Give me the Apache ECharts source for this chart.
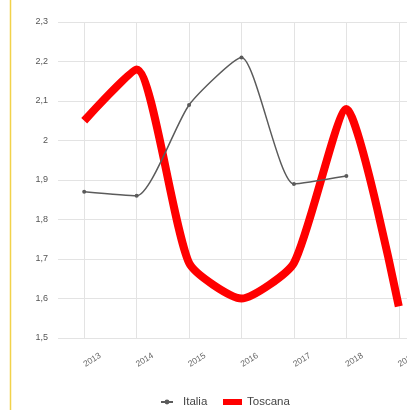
<!DOCTYPE html>
<html>
<head>
<meta charset="utf-8">
<script src="https://cdn.jsdelivr.net/npm/echarts@6/dist/echarts.min.js"></script>
<style>
  html, body { margin: 0; padding: 0; background: #fff; }
  #chart { width: 407px; height: 410px; }
</style>
</head>
<body>
<div id="chart"></div>
<script>
// Years on the category axis
const years = ['2013', '2014', '2015', '2016', '2017', '2018', '2019'];
// National values
const italia = [1.87, 1.86, 2.09, 2.21, 1.89, 1.91, null];
// Regional values
const toscana = [2.05, 2.18, 1.69, 1.60, 1.69, 2.08, 1.58];

const chart = echarts.init(document.getElementById('chart'), null, { renderer: 'canvas' });

const legendFont = { fontSize: 11.5, color: '#444', fontFamily: '"Liberation Sans", Arial, sans-serif' };

chart.setOption({
  animation: false,
  backgroundColor: '#ffffff',
  graphic: [{
    type: 'line',
    shape: { x1: 10.5, y1: 0, x2: 10.5, y2: 410 },
    style: { stroke: '#f2d24a', lineWidth: 1.5 },
    silent: true
  }],
  grid: { left: 58, top: 22, width: 367, height: 316, outerBoundsMode: 'none', containLabel: false },
  legend: [
    {
      top: 396,
      left: 160,
      padding: 0,
      itemWidth: 12,
      itemHeight: 6,
      textStyle: Object.assign({ padding: [0, 0, 0, 5] }, legendFont),
      data: [{ name: 'Italia' }]
    },
    {
      top: 396,
      left: 223,
      padding: 0,
      itemWidth: 19,
      itemHeight: 6,
      textStyle: legendFont,
      data: [{ name: 'Toscana', icon: 'rect' }]
    }
  ],
  xAxis: {
    type: 'category',
    data: years,
    boundaryGap: true,
    axisLine: { show: false },
    axisTick: { show: false },
    axisLabel: {
      rotate: 32,
      align: 'left',
      verticalAlign: 'middle',
      fontSize: 8.5,
      color: '#666',
      margin: 27,
      fontFamily: '"Liberation Sans", Arial, sans-serif'
    },
    splitLine: { show: true, alignWithLabel: true, lineStyle: { color: '#e3e3e3', width: 1 } }
  },
  yAxis: {
    type: 'value',
    min: 1.5,
    max: 2.3,
    interval: 0.1,
    axisLine: { show: false },
    axisTick: { show: false },
    axisLabel: {
      fontSize: 9,
      color: '#555',
      margin: 10,
      fontFamily: '"Liberation Sans", Arial, sans-serif',
      formatter: v => {
        const r = Math.round(v * 10) / 10;
        return String(r).replace('.', ',');
      }
    },
    splitLine: { lineStyle: { color: '#e3e3e3', width: 1 } }
  },
  series: [
    {
      name: 'Italia',
      type: 'line',
      data: italia,
      smooth: 0.2,
      symbol: 'circle',
      symbolSize: 4,
      itemStyle: { color: '#5b5b5b' },
      lineStyle: { color: '#5b5b5b', width: 1.5 },
      z: 3
    },
    {
      name: 'Toscana',
      type: 'line',
      data: toscana,
      smooth: 0.2,
      showSymbol: false,
      symbol: 'none',
      itemStyle: { color: '#ff0000' },
      lineStyle: { color: '#ff0000', width: 8 },
      z: 2
    }
  ]
});
</script>
</body>
</html>
